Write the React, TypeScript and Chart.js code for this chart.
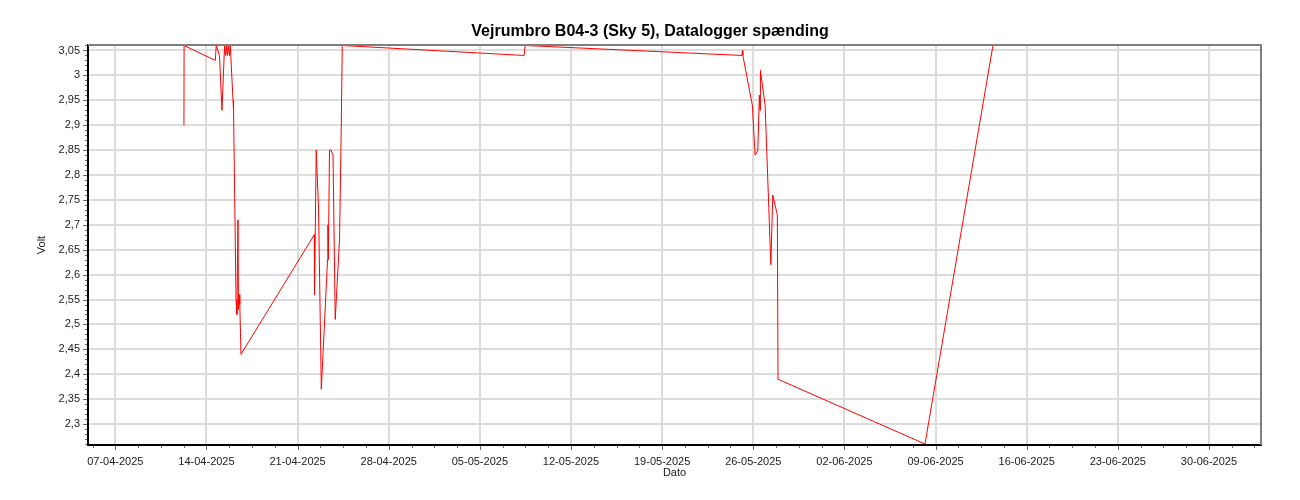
import React, { useEffect, useRef } from 'react';
import { Chart, registerables } from 'chart.js';

Chart.register(...registerables);

// Days since 07-04-2025 (00:00)
const dayOffsets: number[] = [
  5.27, 5.28, 7.68, 7.75, 8.0, 8.19, 8.39, 8.45, 8.52, 8.6, 8.68, 8.76, 8.83,
  9.04, 9.08, 9.27, 9.34, 9.42, 9.46, 9.5, 9.56, 9.65,
  15.28, 15.3, 15.43, 15.61, 15.82, 16.3, 16.33, 16.36, 16.45, 16.56, 16.72, 16.89, 17.22, 17.35, 17.43,
  31.4, 31.48,
  48.12, 48.17, 48.2, 48.93, 49.14, 49.35, 49.47, 49.52, 49.55, 49.91, 50.35, 50.5, 50.85, 50.9,
  62.19, 67.41,
];
const volts: number[] = [
  2.9, 3.06, 3.03, 3.06, 3.04, 2.93, 3.06, 3.04, 3.06, 3.04, 3.06, 3.04, 3.06,
  2.95, 2.93, 2.55, 2.52, 2.71, 2.53, 2.56, 2.54, 2.44,
  2.68, 2.56, 2.85, 2.73, 2.37, 2.63, 2.7, 2.63, 2.85, 2.85, 2.84, 2.51, 2.67, 2.89, 3.06,
  3.04, 3.06,
  3.04, 3.05, 3.04, 2.94, 2.84, 2.85, 2.96, 2.93, 3.01, 2.94, 2.62, 2.76, 2.72, 2.39,
  2.26, 3.06,
];

const weekLabels: string[] = [
  '07-04-2025', '14-04-2025', '21-04-2025', '28-04-2025', '05-05-2025', '12-05-2025',
  '19-05-2025', '26-05-2025', '02-06-2025', '09-06-2025', '16-06-2025', '23-06-2025', '30-06-2025',
];

const chartTitle = 'Vejrumbro B04-3 (Sky 5), Datalogger spænding';
const xTitle = 'Dato';
const yTitle = 'Volt';

const X_MIN = -2.1;
const X_MAX = 88;
const Y_MIN = 2.258;
const Y_MAX = 3.061;
const X_MINOR_STEP = 1.75; // quarter week
const FONT = "'Liberation Sans', Arial, sans-serif";

const isXMajor = (v: number) => Math.abs(v / 7 - Math.round(v / 7)) < 1e-6;
const isYMajor = (v: number) => Math.round(v * 100) % 5 === 0;

const frameAndTicks = {
  id: 'frameAndTicks',
  afterDraw(chart: any) {
    const { ctx, chartArea } = chart;
    const { left, right, top, bottom } = chartArea;
    ctx.save();
    ctx.strokeStyle = '#6e6e6e';
    ctx.lineWidth = 1;
    const xs = chart.scales.x;
    xs.ticks.forEach((t: any) => {
      const px = Math.round(xs.getPixelForValue(t.value)) + 0.5;
      const len = isXMajor(t.value) ? 4 : 2;
      ctx.beginPath();
      ctx.moveTo(px, bottom + 1);
      ctx.lineTo(px, bottom + 1 + len);
      ctx.stroke();
    });
    const ys = chart.scales.y;
    ys.ticks.forEach((t: any) => {
      const py = Math.round(ys.getPixelForValue(t.value)) + 0.5;
      const len = isYMajor(t.value) ? 4 : 2;
      ctx.beginPath();
      ctx.moveTo(left - 1, py);
      ctx.lineTo(left - 1 - len, py);
      ctx.stroke();
    });
    ctx.strokeStyle = '#7f7f7f';
    ctx.lineWidth = 2;
    ctx.beginPath();
    ctx.moveTo(left, top);
    ctx.lineTo(right, top);
    ctx.lineTo(right, bottom);
    ctx.stroke();
    ctx.restore();
  },
};

export default function App() {
  const ref = useRef<HTMLCanvasElement | null>(null);

  useEffect(() => {
    document.body.style.margin = '0';
    const canvas = ref.current;
    if (!canvas) return;
    const chart = new Chart(canvas, {
      type: 'line',
      data: {
        datasets: [
          {
            label: 'Volt',
            data: dayOffsets.map((d, i) => ({ x: d, y: volts[i] })),
            borderColor: '#ff0000',
            borderWidth: 1,
            pointRadius: 0,
            tension: 0,
            fill: false,
            yAxisID: 'y',
          },
        ],
      },
      options: {
        animation: false,
        responsive: false,
        devicePixelRatio: 1,
        layout: { padding: { left: 0, right: 0, top: 0, bottom: 0 } },
        plugins: {
          legend: { display: false },
          tooltip: { enabled: false },
          title: {
            display: true,
            text: chartTitle,
            color: '#000',
            font: { family: FONT, size: 16, weight: 'bold' },
            padding: { top: 22.4, bottom: 3.4 },
          },
        },
        scales: {
          x: {
            type: 'linear',
            min: X_MIN,
            max: X_MAX,
            bounds: 'data',
            afterBuildTicks: (scale: any) => {
              const t: any[] = [];
              for (let k = -1; k * X_MINOR_STEP <= X_MAX; k++) {
                const v = k * X_MINOR_STEP;
                if (v >= X_MIN) t.push({ value: v });
              }
              scale.ticks = t;
            },
            afterFit: (scale: any) => {
              scale.height = 55;
            },
            ticks: {
              autoSkip: false,
              maxRotation: 0,
              minRotation: 0,
              padding: 10,
              color: '#222',
              font: { family: FONT, size: 11 },
              callback: (value: any) => {
                const v = Number(value);
                if (!isXMajor(v)) return '';
                const idx = Math.round(v / 7);
                return weekLabels[idx] ?? '';
              },
            },
            grid: {
              drawTicks: false,
              lineWidth: 2,
              color: (c: any) => (c.tick && isXMajor(c.tick.value) ? '#dcdcdc' : 'rgba(0,0,0,0)'),
            },
            border: { color: '#000', width: 2 },
            title: {
              display: true,
              text: xTitle,
              color: '#222',
              font: { family: FONT, size: 11 },
              padding: { top: 0, bottom: 20 },
            },
          },
          y: {
            type: 'linear',
            position: 'left',
            min: Y_MIN,
            max: Y_MAX,
            bounds: 'data',
            afterBuildTicks: (scale: any) => {
              const t: any[] = [];
              for (let r = 226; r <= 306; r++) {
                const v = r / 100;
                if (v >= Y_MIN && v <= Y_MAX) t.push({ value: v });
              }
              scale.ticks = t;
            },
            afterFit: (scale: any) => {
              scale.width = 88;
            },
            ticks: {
              autoSkip: false,
              padding: 8,
              color: '#222',
              font: { family: FONT, size: 11 },
              callback: (value: any) => {
                const v = Number(value);
                if (!isYMajor(v)) return '';
                return String(Math.round(v * 100) / 100).replace('.', ',');
              },
            },
            grid: {
              drawTicks: false,
              lineWidth: 2,
              color: (c: any) => (c.tick && isYMajor(c.tick.value) ? '#dcdcdc' : 'rgba(0,0,0,0)'),
            },
            border: { color: '#000', width: 2 },
            title: {
              display: true,
              text: yTitle,
              color: '#222',
              font: { family: FONT, size: 11 },
              padding: { top: 35.4, bottom: 0 },
            },
          },
          yRight: {
            type: 'linear',
            position: 'right',
            display: true,
            grid: { display: false, drawTicks: false },
            border: { display: false },
            ticks: { display: false },
            afterFit: (scale: any) => {
              scale.width = 39;
            },
          },
        },
      },
      plugins: [frameAndTicks],
    } as any);
    return () => chart.destroy();
  }, []);

  return (
    <div style={{ width: 1300, height: 500, background: '#fff' }}>
      <canvas ref={ref} width={1300} height={500} style={{ display: 'block', width: 1300, height: 500 }} />
    </div>
  );
}
